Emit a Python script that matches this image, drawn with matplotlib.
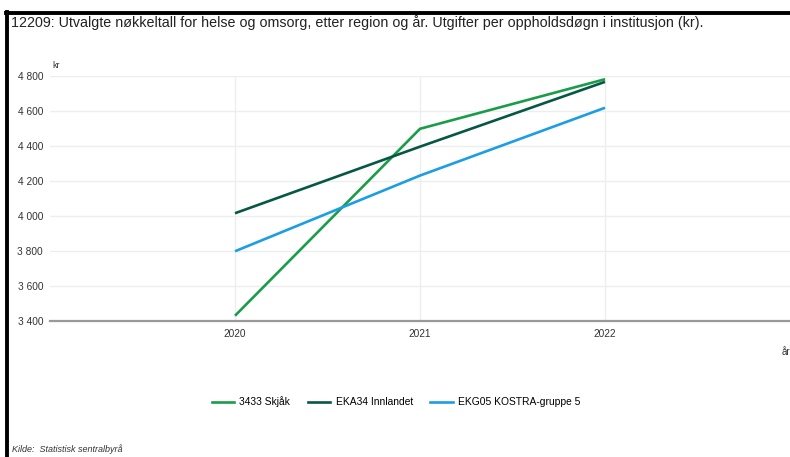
import matplotlib.pyplot as plt
from matplotlib.lines import Line2D

plt.rcParams['font.family'] = ['Liberation Sans', 'DejaVu Sans']

years = [2020, 2021, 2022]
skjak = [3430, 4497, 4780]
innlandet = [4015, 4395, 4765]
kostra5 = [3798, 4230, 4617]

series = [
    ("3433 Skjåk", skjak, "#1a9d49"),
    ("EKA34 Innlandet", innlandet, "#075745"),
    ("EKG05 KOSTRA-gruppe 5", kostra5, "#1d9de2"),
]
y_ticks = [3400, 3600, 3800, 4000, 4200, 4400, 4600, 4800]

fig = plt.figure(figsize=(7.9, 4.57), dpi=100)
ax = fig.add_axes([50 / 790, 1 - 321 / 457, 740 / 790, (321 - 75.7) / 457])

for label, values, color in series:
    ax.plot(years, values, color=color, linewidth=1.9, label=label,
            solid_capstyle="butt")

ax.set_xlim(2019, 2023)
ax.set_ylim(3400, 4800)
ax.set_xticks(years)
ax.set_yticks(y_ticks)
ax.set_yticklabels([f"{v:,}".replace(",", " ") for v in y_ticks])
ax.tick_params(axis="both", length=0, labelsize=7.3, colors="#333333")
ax.tick_params(axis="x", pad=6)
ax.tick_params(axis="y", pad=5)
ax.grid(True, color="#eceeef", linewidth=1)
ax.set_axisbelow(True)
for side in ["top", "right", "left"]:
    ax.spines[side].set_visible(False)
ax.spines["bottom"].set_color("#999999")
ax.spines["bottom"].set_linewidth(1.6)

fig.text(52 / 790, 1 - 66 / 457, "kr", fontsize=6.5, color="#333333", va="center")
fig.text(790 / 790, 1 - 352 / 457, "år", fontsize=7, color="#333333",
         va="center", ha="right")

fig.text(11 / 790, 1 - 23 / 457,
         "12209: Utvalgte nøkkeltall for helse og omsorg, etter region og år. "
         "Utgifter per oppholdsdøgn i institusjon (kr).",
         fontsize=10.3, color="#222222", va="center")

handles = [Line2D([], [], color=c, linewidth=1.9) for _, _, c in series]
fig.legend(handles, [s[0] for s in series], loc="center",
           bbox_to_anchor=(396 / 790, 1 - 402 / 457), ncol=3, frameon=False,
           fontsize=7.4, handlelength=2.2, columnspacing=1.7, handletextpad=0.5)

fig.text(12 / 790, 1 - 449 / 457, "Kilde:  Statistisk sentralbyrå",
         fontsize=6.5, style="italic", color="#333333", va="center")

# black frame at left and top
fig.add_artist(Line2D([7 / 790, 7 / 790], [0, 1 - 12 / 457], color="black",
                      linewidth=2.8, transform=fig.transFigure))
fig.add_artist(Line2D([6 / 790, 1], [1 - 12.5 / 457, 1 - 12.5 / 457], color="black",
                      linewidth=2.8, transform=fig.transFigure))

fig.savefig("out.png", dpi=100)
